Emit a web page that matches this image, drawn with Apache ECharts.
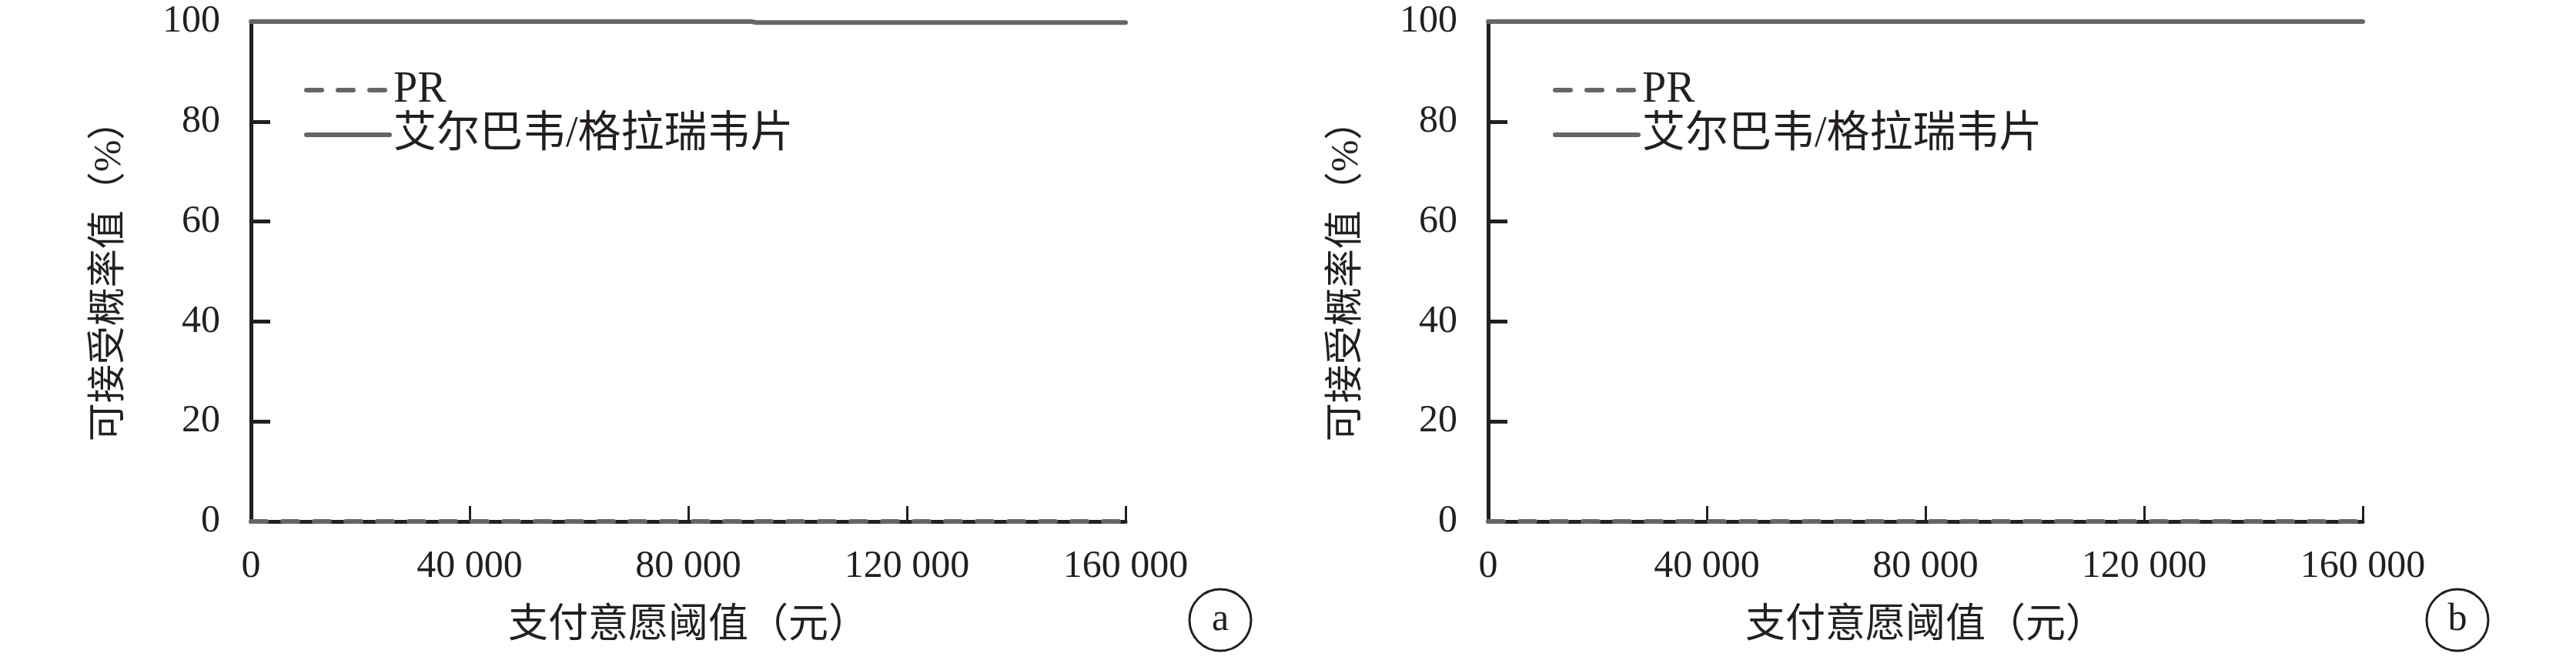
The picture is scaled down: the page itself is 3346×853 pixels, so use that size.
<!DOCTYPE html>
<html>
<head>
<meta charset="utf-8">
<script src="https://cdn.jsdelivr.net/npm/echarts@6/dist/echarts.min.js"></script>
<style>
html,body{margin:0;padding:0;background:#fff;}
#chart{width:3346px;height:853px;}
</style>
</head>
<body>
<div id="chart"></div>
<script>
// ---- data ----
const seriesNames = ['PR', '艾尔巴韦/格拉瑞韦片'];
const xValues = [0, 20000, 40000, 60000, 80000, 91500, 92500, 100000, 120000, 140000, 160000];
const panelA_PR = [0, 0, 0, 0, 0, 0, 0, 0, 0, 0, 0];
const panelA_GZR = [100, 100, 100, 100, 100, 100, 99.8, 99.8, 99.8, 99.8, 99.8];
const panelB_PR = [0, 0, 0, 0, 0, 0, 0, 0, 0, 0, 0];
const panelB_GZR = [100, 100, 100, 100, 100, 100, 100, 100, 100, 100, 100];
const xTickLabels = {0: '0', 40000: '40 000', 80000: '80 000', 120000: '120 000', 160000: '160 000'};
const yTickValues = [0, 20, 40, 60, 80, 100];
const xAxisTitle = '支付意愿阈值（元）';
const yAxisTitle = '可接受概率值（%）';
const panelLabels = ['a', 'b'];

// ---- style ----
const INK = '#231f20';
const LINE = '#666666';
const FONT = '"Liberation Serif", "Noto Sans CJK SC", serif';

const grids = [
  {left: 326, top: 28, width: 1136, height: 649},
  {left: 1933, top: 28, width: 1136, height: 649}
];

function pair(arrX, arrY){ return arrX.map((x,i)=>[x, arrY[i]]); }

const xAxes = grids.map((g, i) => ({
  type: 'value', gridIndex: i, min: 0, max: 160000, interval: 40000,
  name: xAxisTitle, nameLocation: 'middle', nameGap: 110,
  nameTextStyle: {fontFamily: FONT, fontSize: 52, color: INK},
  axisLine: {show: true, lineStyle: {color: INK, width: 5}},
  axisTick: {show: true, inside: true, length: 20, lineStyle: {color: INK, width: 3}},
  axisLabel: {fontFamily: FONT, fontSize: 50, color: INK, margin: 34,
    formatter: v => xTickLabels[v] !== undefined ? xTickLabels[v] : ''},
  splitLine: {show: false}
}));

const yAxes = grids.map((g, i) => ({
  type: 'value', gridIndex: i, min: 0, max: 100, interval: 20,
  name: yAxisTitle, nameLocation: 'middle', nameGap: 158,
  nameTextStyle: {fontFamily: FONT, fontSize: 50, color: INK},
  axisLine: {show: true, lineStyle: {color: INK, width: 5}},
  axisTick: {show: true, inside: true, length: 25, lineStyle: {color: INK, width: 5}},
  axisLabel: {fontFamily: FONT, fontSize: 50, color: INK, margin: 40,
    formatter: v => yTickValues.indexOf(v) >= 0 ? String(v) : ''},
  splitLine: {show: false}
}));

const DASH = [20, 21];
const dashStyle = {color: LINE, width: 6, type: DASH, cap: 'round'};
const solidStyle = {color: LINE, width: 6, type: 'solid', cap: 'round'};

const panelData = [[panelA_PR, panelA_GZR], [panelB_PR, panelB_GZR]];
const series = [];
panelData.forEach((pd, i) => {
  series.push({
    name: seriesNames[0], type: 'line', xAxisIndex: i, yAxisIndex: i,
    data: pair(xValues, pd[0]), symbol: 'none', showSymbol: false,
    lineStyle: dashStyle, itemStyle: {color: LINE}, clip: false, animation: false, z: 3
  });
  series.push({
    name: seriesNames[1], type: 'line', xAxisIndex: i, yAxisIndex: i,
    data: pair(xValues, pd[1]), symbol: 'none', showSymbol: false,
    lineStyle: solidStyle, itemStyle: {color: LINE}, clip: false, animation: false, z: 3
  });
});

const legends = [390, 2012].map(left => ({
  data: [
    {name: seriesNames[0], lineStyle: {color: LINE, width: 6, type: DASH, cap: 'round'}},
    {name: seriesNames[1], lineStyle: {color: LINE, width: 6, type: 'solid', cap: 'round'}}
  ],
  orient: 'vertical', left: left, top: 84,
  itemWidth: 108, itemHeight: 14, itemGap: 2,
  itemStyle: {opacity: 0, borderWidth: 0},
  textStyle: {fontFamily: FONT, fontSize: 56, color: INK, lineHeight: 56},
  selectedMode: false
}));

const graphics = [];
grids.forEach((g, i) => {
  const cx = g.left + g.width + 123, cy = 805;
  graphics.push({type: 'circle', shape: {cx: cx, cy: cy, r: 40}, style: {fill: 'none', stroke: INK, lineWidth: 3}});
  graphics.push({type: 'text', x: cx, y: cy, style: {text: panelLabels[i], fontFamily: FONT, fontSize: 50, fill: INK, align: 'center', verticalAlign: 'middle'}});
});

const chart = echarts.init(document.getElementById('chart'), null, {renderer: 'canvas'});
chart.setOption({
  animation: false,
  backgroundColor: '#ffffff',
  grid: grids,
  xAxis: xAxes,
  yAxis: yAxes,
  legend: legends,
  series: series,
  graphic: graphics
});
</script>
</body>
</html>
